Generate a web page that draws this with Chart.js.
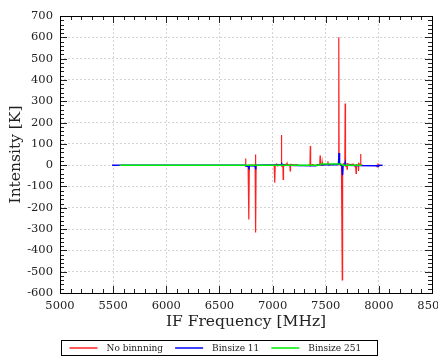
<!DOCTYPE html>
<html>
<head>
<meta charset="utf-8">
<script src="https://cdn.jsdelivr.net/npm/chart.js@4/dist/chart.umd.min.js"></script>
<style>
  html, body { margin: 0; padding: 0; background: #fff; }
</style>
</head>
<body>
<canvas id="spectrum" width="438" height="356"></canvas>
<script>
// IF spectrum, raw and binned (frequency in MHz, intensity in K)
const redFreq = [6740, 6744, 6746, 6749, 6770, 6775, 6778, 6781, 6830, 6836, 6839, 6842, 6845, 6856,
  6900,
  7015, 7019, 7022, 7025, 7040, 7048, 7060, 7080, 7083, 7086, 7097, 7100, 7103, 7122, 7133, 7136, 7139,
  7163, 7166, 7169, 7200, 7240,
  7290,
  7340, 7352, 7355, 7358, 7380, 7400, 7420, 7444, 7447, 7450, 7463, 7466, 7469, 7500, 7518, 7521, 7524,
  7560, 7590, 7620, 7623, 7626, 7648, 7653, 7656, 7659, 7680, 7683, 7686, 7698, 7701, 7704, 7730, 7760,
  7782, 7786, 7789, 7805, 7808, 7811, 7825, 7828, 7831, 7845,
  7900,
  7975, 7984, 7992, 8002, 8015];
const redK = [0, 2, 31, 2, -3, -2, -255, 0, 2, 3, 50, -316, 0, -4,
  null,
  0, 2, -83, 2, 5, -4, 3, 0, 141, -3, -2, -67, 2, 4, 3, 8, 0,
  2, -27, 3, 2, 1,
  null,
  2, -3, 90, 0, 3, -2, 2, 4, 45, 0, 2, 15, 0, 3, 4, 18, 0,
  3, 4, 2, 600, 5, -3, -3, -538, 4, 10, 289, -5, -3, -19, 6, 3, 5,
  -10, -39, 3, 0, -27, 8, 3, 52, 3, 0,
  null,
  0, -8, 5, -2, 1];

const blueFreq = [5490, 6740, 6748, 6775, 6778, 6781, 6837, 6840, 6843, 7081, 7084, 7087, 7101, 7104, 7107, 7230,
  7400, 7460, 7600, 7620, 7625, 7630, 7653, 7658, 7663, 7681, 7684, 7687, 7790, 7990, 7996, 8004, 8035];
const blueK = [0, 0, -4, -6, -20, -2, -4, -20, 0, 2, 11, 2, 2, 5, 0, -2,
  -3, 2, 2, 4, 57, 10, -5, -47, -4, 3, 10, 0, -2, -3, -6, -1, 0];

const greenFreq = [5560, 7440, 7460, 7640, 7660, 7838];
const greenK = [0, 0, 5, 5, 0, 0];

const freqTicks = [5000, 5500, 6000, 6500, 7000, 7500, 8000, 8500];
const intensityTicks = [-600, -500, -400, -300, -200, -100, 0, 100, 200, 300, 400, 500, 600, 700];

const serif = '"DejaVu Serif", "Liberation Serif", serif';

function toPoints(xs, ys) {
  return xs.map((x, i) => ({x: x, y: ys[i]}));
}

// frame + inward ticks on all four sides
const frameTicks = {
  id: 'frameTicks',
  afterDatasetsDraw(chart) {
    const {ctx, chartArea: a, scales: {x, y}} = chart;
    ctx.save();
    ctx.strokeStyle = '#222';
    ctx.lineWidth = 1;
    ctx.beginPath();
    for (let v = x.min; v <= x.max; v += 100) {
      const px = Math.round(x.getPixelForValue(v)) + 0.5;
      const len = v % 500 === 0 ? 7 : 4;
      ctx.moveTo(px, a.bottom); ctx.lineTo(px, a.bottom - len);
      ctx.moveTo(px, a.top); ctx.lineTo(px, a.top + len);
    }
    for (let v = y.min; v <= y.max; v += 20) {
      const py = Math.round(y.getPixelForValue(v)) + 0.5;
      const len = v % 100 === 0 ? 7 : 4;
      ctx.moveTo(a.left, py); ctx.lineTo(a.left + len, py);
      ctx.moveTo(a.right, py); ctx.lineTo(a.right - len, py);
    }
    ctx.stroke();
    ctx.strokeStyle = '#000';
    ctx.strokeRect(Math.round(a.left) + 0.5, Math.round(a.top) + 0.5,
      Math.round(a.right - a.left), Math.round(a.bottom - a.top));
    ctx.restore();
  }
};

// boxed legend under the axis title
const boxLegend = {
  id: 'boxLegend',
  afterDraw(chart) {
    const ctx = chart.ctx;
    const sets = chart.data.datasets;
    ctx.save();
    ctx.font = '9px ' + serif;
    const lineLen = 28, gap = 9, itemGap = 12, padL = 8, padR = 16;
    const widths = sets.map(d => ctx.measureText(d.label).width);
    const total = padL + padR + widths.reduce((s, w) => s + lineLen + gap + w, 0) + itemGap * (sets.length - 1);
    const left = Math.round((chart.width - total) / 2) + 0.5;
    const top = 340.5, h = 15, cy = top + h / 2;
    ctx.strokeStyle = '#000';
    ctx.lineWidth = 1;
    ctx.strokeRect(left, top, Math.round(total), h);
    let cx = left + padL;
    ctx.textBaseline = 'middle';
    ctx.textAlign = 'left';
    sets.forEach((d, i) => {
      ctx.strokeStyle = d.borderColor;
      ctx.lineWidth = 1.5;
      ctx.beginPath();
      ctx.moveTo(cx, cy); ctx.lineTo(cx + lineLen, cy);
      ctx.stroke();
      cx += lineLen + gap;
      ctx.fillStyle = '#222';
      ctx.fillText(d.label, cx, cy + 0.5);
      cx += widths[i] + itemGap;
    });
    ctx.restore();
  }
};

new Chart(document.getElementById('spectrum'), {
  type: 'line',
  data: {
    datasets: [
      {label: 'No binnning', data: toPoints(redFreq, redK), borderColor: '#ff2020', borderWidth: 1.2, order: 3},
      {label: 'Binsize 11', data: toPoints(blueFreq, blueK), borderColor: '#0000ff', borderWidth: 1.5, order: 2},
      {label: 'Binsize 251', data: toPoints(greenFreq, greenK), borderColor: '#00ee00', borderWidth: 1.5, order: 1}
    ]
  },
  options: {
    responsive: false,
    animation: false,
    devicePixelRatio: 1,
    spanGaps: false,
    elements: {point: {radius: 0}, line: {tension: 0}},
    layout: {padding: {top: 16, right: 6, left: 0, bottom: 23}},
    plugins: {legend: {display: false}, tooltip: {enabled: false}},
    scales: {
      x: {
        type: 'linear',
        min: 5000, max: 8500,
        afterBuildTicks: s => { s.ticks = freqTicks.map(v => ({value: v})); },
        afterFit: s => { s.height = 40; s.paddingLeft = 0; s.paddingRight = 0; },
        ticks: {
          padding: 6, color: '#222', maxRotation: 0, autoSkip: false,
          font: {family: serif, size: 11.5},
          callback: v => String(v)
        },
        grid: {color: '#d4d4d4', drawTicks: false},
        border: {display: false, dash: [2, 2]},
        title: {display: true, text: 'IF Frequency [MHz]', color: '#222',
          font: {family: serif, size: 15.5}, padding: {top: 0, bottom: 2}}
      },
      y: {
        min: -600, max: 700,
        afterBuildTicks: s => { s.ticks = intensityTicks.map(v => ({value: v})); },
        afterFit: s => { s.width = 60; },
        ticks: {
          padding: 7, color: '#222',
          font: {family: serif, size: 11.5},
          callback: v => String(v)
        },
        grid: {color: '#d4d4d4', drawTicks: false},
        border: {display: false, dash: [2, 2]},
        title: {display: true, text: 'Intensity [K]', color: '#222',
          font: {family: serif, size: 15.5}, padding: {top: 7, bottom: 0}}
      }
    }
  },
  plugins: [frameTicks, boxLegend]
});
</script>
</body>
</html>
